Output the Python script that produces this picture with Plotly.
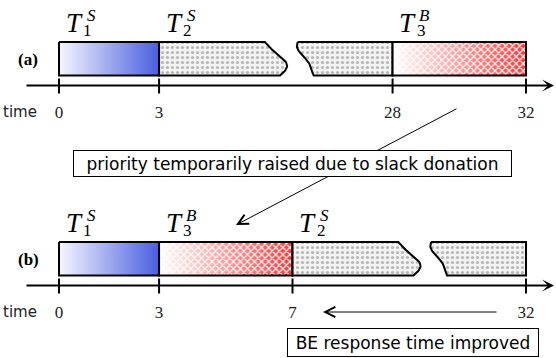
import numpy as np
import plotly.graph_objects as go

# ---------------- data ----------------
row_labels = ["(a)", "(b)"]

# row (a): original schedule
a_task_sub = ["1", "2", "3"]
a_task_sup = ["S", "S", "B"]
a_task_start = [0, 3, 28]
a_task_end = [3, 28, 32]
a_ticks = [0, 3, 28, 32]

# row (b): with slack donation
b_task_sub = ["1", "3", "2"]
b_task_sup = ["S", "B", "S"]
b_task_start = [0, 3, 7]
b_task_end = [3, 7, 32]
b_ticks = [0, 3, 7, 32]

hidden_time = 18          # time units omitted inside the torn (broken) bar of T2
axis_title = "time"
note_top = "priority temporarily raised due to slack donation"
note_bottom = "BE response time improved"

# ---------------- style / layout ----------------
W, H = 556, 358
X0_PX = 59.0
PPU = (526.0 - 59.0) / 14.0           # pixels per display unit
XR = [-X0_PX / PPU, (W - X0_PX) / PPU]


def px(dpx):
    return dpx / PPU


BAR_H = 33.5
ROW_TOP = [42.0, 242.0]
BREAK_AT = 3.175
BREAK_GAP = 0.98
SANS = "DejaVu Sans"

STYLE = {"1": "blue", "2": "gray", "3": "red"}

fig = go.Figure()
ann = []


def wave1(v):
    return 15 * v + 10.5 * np.sin(np.pi * v) - 3.3 * np.sin(2 * np.pi * v)


def wave2(v):
    return 16 * v - 4.5 * np.sin(2 * np.pi * v) * (1 - v)


def add_poly(xs, ys, kind):
    if kind == "blue":
        fig.add_trace(go.Scatter(
            x=xs, y=ys, mode="lines", fill="toself",
            fillgradient=dict(type="horizontal",
                              colorscale=[[0, "#f6f6fd"], [1, "#4a5ee0"]]),
            line=dict(color="black", width=2), hoverinfo="skip"))
    elif kind == "red":
        fig.add_trace(go.Scatter(
            x=xs, y=ys, mode="lines", fill="toself",
            fillgradient=dict(type="horizontal",
                              colorscale=[[0, "#ffffff"], [1, "#ff3535"]]),
            line=dict(color="rgba(0,0,0,0)", width=0), hoverinfo="skip"))
        fig.add_trace(go.Scatter(
            x=xs, y=ys, mode="lines", fill="toself",
            fillcolor="rgba(255,255,255,0.02)",
            fillpattern=dict(shape="x", fgcolor="white", bgcolor="rgba(255,255,255,0)",
                             size=5, solidity=0.4, fillmode="replace"),
            line=dict(color="black", width=2), hoverinfo="skip"))
    else:
        fig.add_trace(go.Scatter(
            x=xs, y=ys, mode="lines", fill="toself",
            fillcolor="#f2f2f2",
            fillpattern=dict(shape=".", fgcolor="#7c7c7c", bgcolor="#f3f3f3",
                             size=5, solidity=0.33),
            line=dict(color="black", width=2), hoverinfo="skip"))


rows = [
    (a_task_sub, a_task_sup, a_task_start, a_task_end, a_ticks),
    (b_task_sub, b_task_sup, b_task_start, b_task_end, b_ticks),
]

v = np.linspace(0, 1, 40)

for r, (subs, sups, starts, ends, ticks) in enumerate(rows):
    top = ROW_TOP[r]
    bot = top + BAR_H
    axis_y = bot + 10
    lab_y = axis_y + 27

    brk_idx = subs.index("2")
    brk_limit = starts[brk_idx] + BREAK_AT

    def disp(t):
        return t if t <= brk_limit else t - hidden_time

    for sub, sup, s, e in zip(subs, sups, starts, ends):
        ds, de = disp(s), disp(e)
        kind = STYLE[sub]
        if sub == "2":
            c1 = ds + BREAK_AT
            xs1 = [ds, c1] + list(c1 + px(wave1(v))) + [ds, ds]
            ys1 = [top, top] + list(top + v * BAR_H) + [bot, top]
            add_poly(xs1, ys1, kind)
            c2 = ds + BREAK_AT + BREAK_GAP
            xs2 = list(c2 + px(wave2(v))) + [de, de, c2]
            ys2 = list(top + v * BAR_H) + [bot, top, top]
            add_poly(xs2, ys2, kind)
        else:
            add_poly([ds, de, de, ds, ds], [top, top, bot, bot, top], kind)

        # task label  T_sub^sup
        ann.append(dict(x=ds + px(15), y=top - 19, text="<i>T</i>",
                        font=dict(family="Liberation Serif", size=27, color="black"),
                        showarrow=False, xanchor="center", yanchor="middle"))
        ann.append(dict(x=ds + px(32), y=top - 27, text="<i>%s</i>" % sup,
                        font=dict(family="Liberation Serif", size=17, color="black"),
                        showarrow=False, xanchor="center", yanchor="middle"))
        ann.append(dict(x=ds + px(28.5), y=top - 12, text=sub,
                        font=dict(family="Liberation Serif", size=17, color="black"),
                        showarrow=False, xanchor="center", yanchor="middle"))

    # time axis with arrow
    ann.append(dict(x=px(554 - X0_PX), y=axis_y, ax=px(25 - X0_PX), ay=axis_y,
                    xref="x", yref="y", axref="x", ayref="y", text="",
                    showarrow=True, arrowhead=3, arrowsize=1, arrowwidth=2,
                    arrowcolor="black", standoff=0))
    # ticks
    tx, ty = [], []
    for t in ticks:
        tx += [disp(t), disp(t), None]
        ty += [axis_y - 7, axis_y + 8, None]
    fig.add_trace(go.Scatter(x=tx, y=ty, mode="lines",
                             line=dict(color="black", width=2), hoverinfo="skip"))
    fig.add_trace(go.Scatter(x=[disp(t) for t in ticks], y=[lab_y + 1] * len(ticks),
                             mode="text", text=[str(t) for t in ticks],
                             textfont=dict(family="Liberation Serif", size=17, color="#222"),
                             hoverinfo="skip"))
    ann.append(dict(x=px(20 - X0_PX), y=lab_y - 1, text=axis_title, showarrow=False,
                    font=dict(family=SANS, size=15, color="#222"),
                    xanchor="center", yanchor="middle"))
    ann.append(dict(x=px(28 - X0_PX), y=top + BAR_H / 2 + 1, text="<b>%s</b>" % row_labels[r],
                    showarrow=False, font=dict(family="Liberation Serif", size=17, color="black"),
                    xanchor="center", yanchor="middle"))

# explanatory arrows (drawn before the boxes so boxes cover them)
ann.append(dict(x=px(236 - X0_PX), y=225, ax=px(458 - X0_PX), ay=108,
                xref="x", yref="y", axref="x", ayref="y", text="", showarrow=True,
                arrowhead=5, arrowsize=2, arrowwidth=1, arrowcolor="black", standoff=0))
ann.append(dict(x=px(323 - X0_PX), y=312, ax=px(498 - X0_PX), ay=312,
                xref="x", yref="y", axref="x", ayref="y", text="", showarrow=True,
                arrowhead=5, arrowsize=2, arrowwidth=1, arrowcolor="black", standoff=0))

ann.append(dict(x=px(292.5 - X0_PX), y=163.5, text=note_top, showarrow=False,
                font=dict(family=SANS, size=17, color="black"),
                bgcolor="white", bordercolor="black", borderwidth=1, borderpad=0,
                width=437, height=25, xanchor="center", yanchor="middle"))
ann.append(dict(x=px(413 - X0_PX), y=342.5, text=note_bottom, showarrow=False,
                font=dict(family=SANS, size=17, color="black"),
                bgcolor="white", bordercolor="black", borderwidth=1, borderpad=0,
                width=250, height=27, xanchor="center", yanchor="middle"))

fig.update_layout(
    width=W, height=H, margin=dict(l=0, r=0, t=0, b=0),
    paper_bgcolor="white", plot_bgcolor="white", showlegend=False,
    xaxis=dict(range=XR, visible=False, fixedrange=True),
    yaxis=dict(range=[H, 0], visible=False, fixedrange=True),
    annotations=ann,
)

fig.write_html("out.html", config={"displayModeBar": False},
               post_script="document.body.style.margin='0';document.body.style.overflow='hidden';")
